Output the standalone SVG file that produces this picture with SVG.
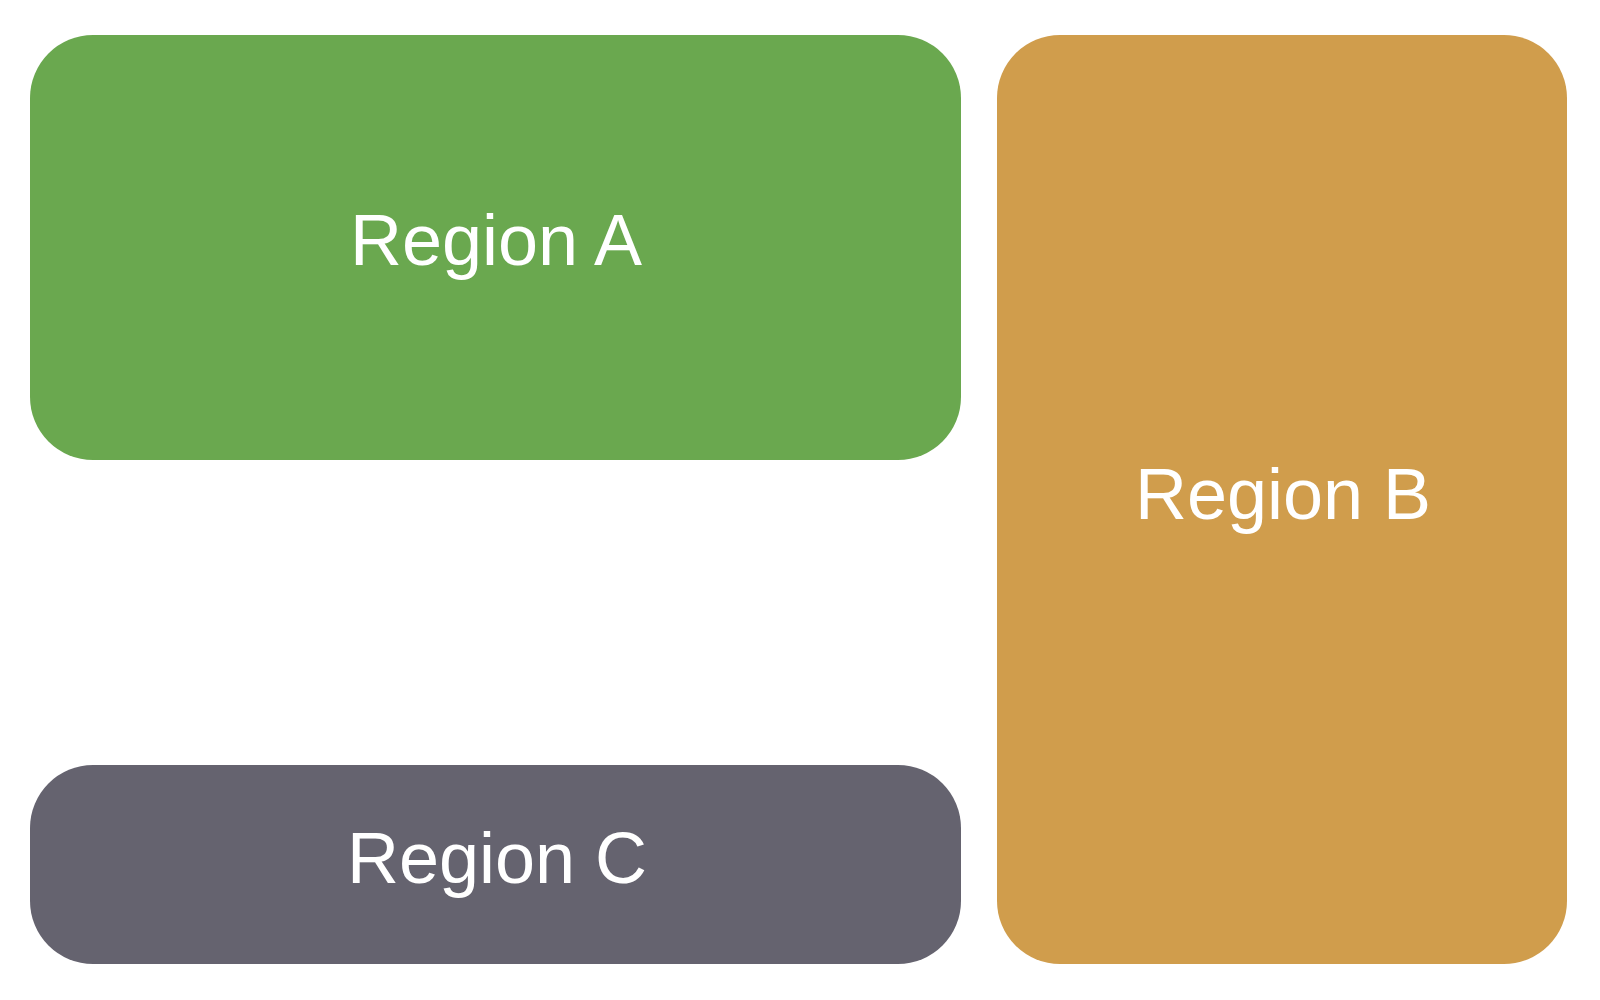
<svg xmlns="http://www.w3.org/2000/svg" width="1600" height="1000" viewBox="0 0 1600 1000">
<style>
.label{font-family:"Liberation Sans",Arial,Helvetica,sans-serif;font-size:72px;fill:#ffffff;text-anchor:middle}
</style>
<rect width="1600" height="1000" fill="#ffffff"/>
<g id="region-a">
<rect x="30" y="35" width="931" height="425" rx="63" ry="63" fill="#6aa84f"/>
<text class="label" x="496" y="265">Region A</text>
</g>
<g id="region-b">
<rect x="997" y="35" width="570" height="929" rx="63" ry="63" fill="#d09d4c"/>
<text class="label" x="1283" y="519">Region B</text>
</g>
<g id="region-c">
<rect x="30" y="765" width="931" height="199" rx="63" ry="63" fill="#65636f"/>
<text class="label" x="497" y="883">Region C</text>
</g>
<g id="connectors"/>
</svg>
